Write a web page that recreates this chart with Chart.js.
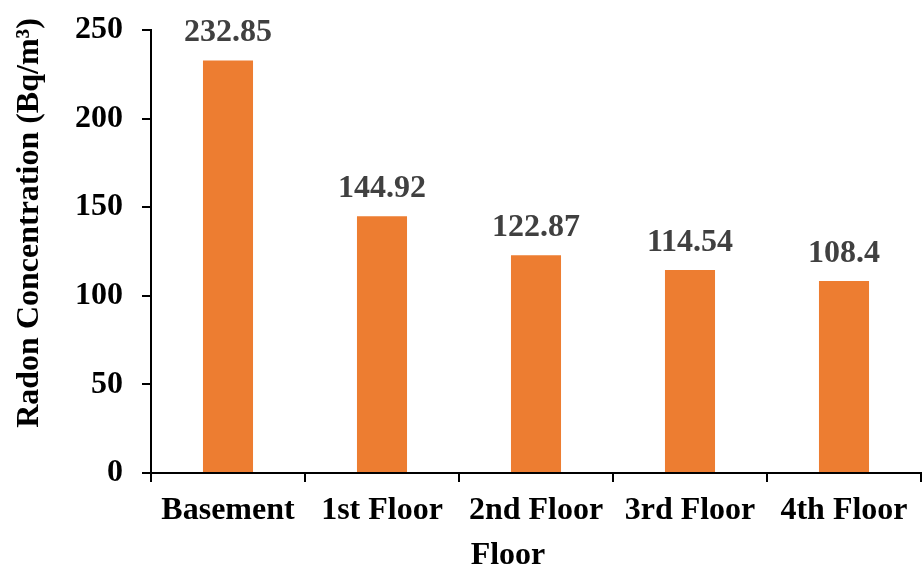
<!DOCTYPE html>
<html>
<head>
<meta charset="utf-8">
<script src="https://cdn.jsdelivr.net/npm/chart.js@4.4.0/dist/chart.umd.min.js"></script>
<style>
  html, body { margin: 0; padding: 0; background: #fff; }
  #wrap { width: 922px; height: 565px; }
</style>
</head>
<body>
<div id="wrap"><canvas id="myChart" width="922" height="565"></canvas></div>
<script>
// Datos del grafico
const floors = ["Basement", "1st Floor", "2nd Floor", "3rd Floor", "4th Floor"];
const radon = [232.85, 144.92, 122.87, 114.54, 108.4];
const yTicks = [0, 50, 100, 150, 200, 250];

const serif = "'Liberation Serif', 'Times New Roman', serif";

// Etiquetas de valor encima de cada barra
const valueLabels = {
    id: "valueLabels",
    afterDatasetsDraw(chart) {
        const ctx = chart.ctx;
        const meta = chart.getDatasetMeta(0);
        ctx.save();
        ctx.font = "bold 32px " + serif;
        ctx.fillStyle = "#404040";
        ctx.textAlign = "center";
        ctx.textBaseline = "alphabetic";
        meta.data.forEach((bar, i) => {
            ctx.fillText(String(radon[i]), bar.x, bar.y - 19);
        });
        ctx.restore();
    }
};

// Titulos de los ejes
const axisTitles = {
    id: "axisTitles",
    afterDraw(chart) {
        const ctx = chart.ctx;
        ctx.save();
        ctx.font = "bold 32px " + serif;
        ctx.fillStyle = "#000";
        ctx.textAlign = "center";
        ctx.textBaseline = "alphabetic";
        ctx.fillText("Floor", 508, 564);

        ctx.translate(38, 223);
        ctx.rotate(-Math.PI / 2);
        ctx.fillText("Radon Concentration (Bq/m³)", 0, 0);
        ctx.restore();
    }
};

new Chart("myChart", {
    type: "bar",
    data: {
        labels: floors,
        datasets: [{
            data: radon,
            backgroundColor: "#ED7D31",
            borderWidth: 0,
            categoryPercentage: 1,
            barPercentage: 0.325
        }]
    },
    options: {
        responsive: false,
        animation: false,
        layout: { padding: { top: 30, right: 1, bottom: 0, left: 0 } },
        plugins: {
            legend: { display: false },
            tooltip: { enabled: false }
        },
        scales: {
            x: {
                afterFit(scale) {
                    scale.height = 92;
                    scale.paddingLeft = 0;
                    scale.paddingRight = 0;
                },
                grid: {
                    offset: true,
                    drawOnChartArea: false,
                    drawTicks: true,
                    tickLength: 9,
                    color: "#000",
                    lineWidth: 2
                },
                border: { color: "#000", width: 2 },
                ticks: {
                    color: "#000",
                    padding: 10,
                    maxRotation: 0,
                    autoSkip: false,
                    font: { family: serif, size: 32, weight: "bold" }
                }
            },
            y: {
                min: 0,
                max: 250,
                afterFit(scale) {
                    scale.width = 151;
                    scale.paddingTop = 0;
                    scale.paddingBottom = 0;
                },
                afterBuildTicks(scale) {
                    scale.ticks = yTicks.map(v => ({ value: v }));
                },
                grid: {
                    drawOnChartArea: false,
                    drawTicks: true,
                    tickLength: 9,
                    color: "#000",
                    lineWidth: 2
                },
                border: { color: "#000", width: 2 },
                ticks: {
                    color: "#000",
                    padding: 19,
                    font: { family: serif, size: 32, weight: "bold" }
                }
            }
        }
    },
    plugins: [valueLabels, axisTitles]
});
</script>
</body>
</html>
